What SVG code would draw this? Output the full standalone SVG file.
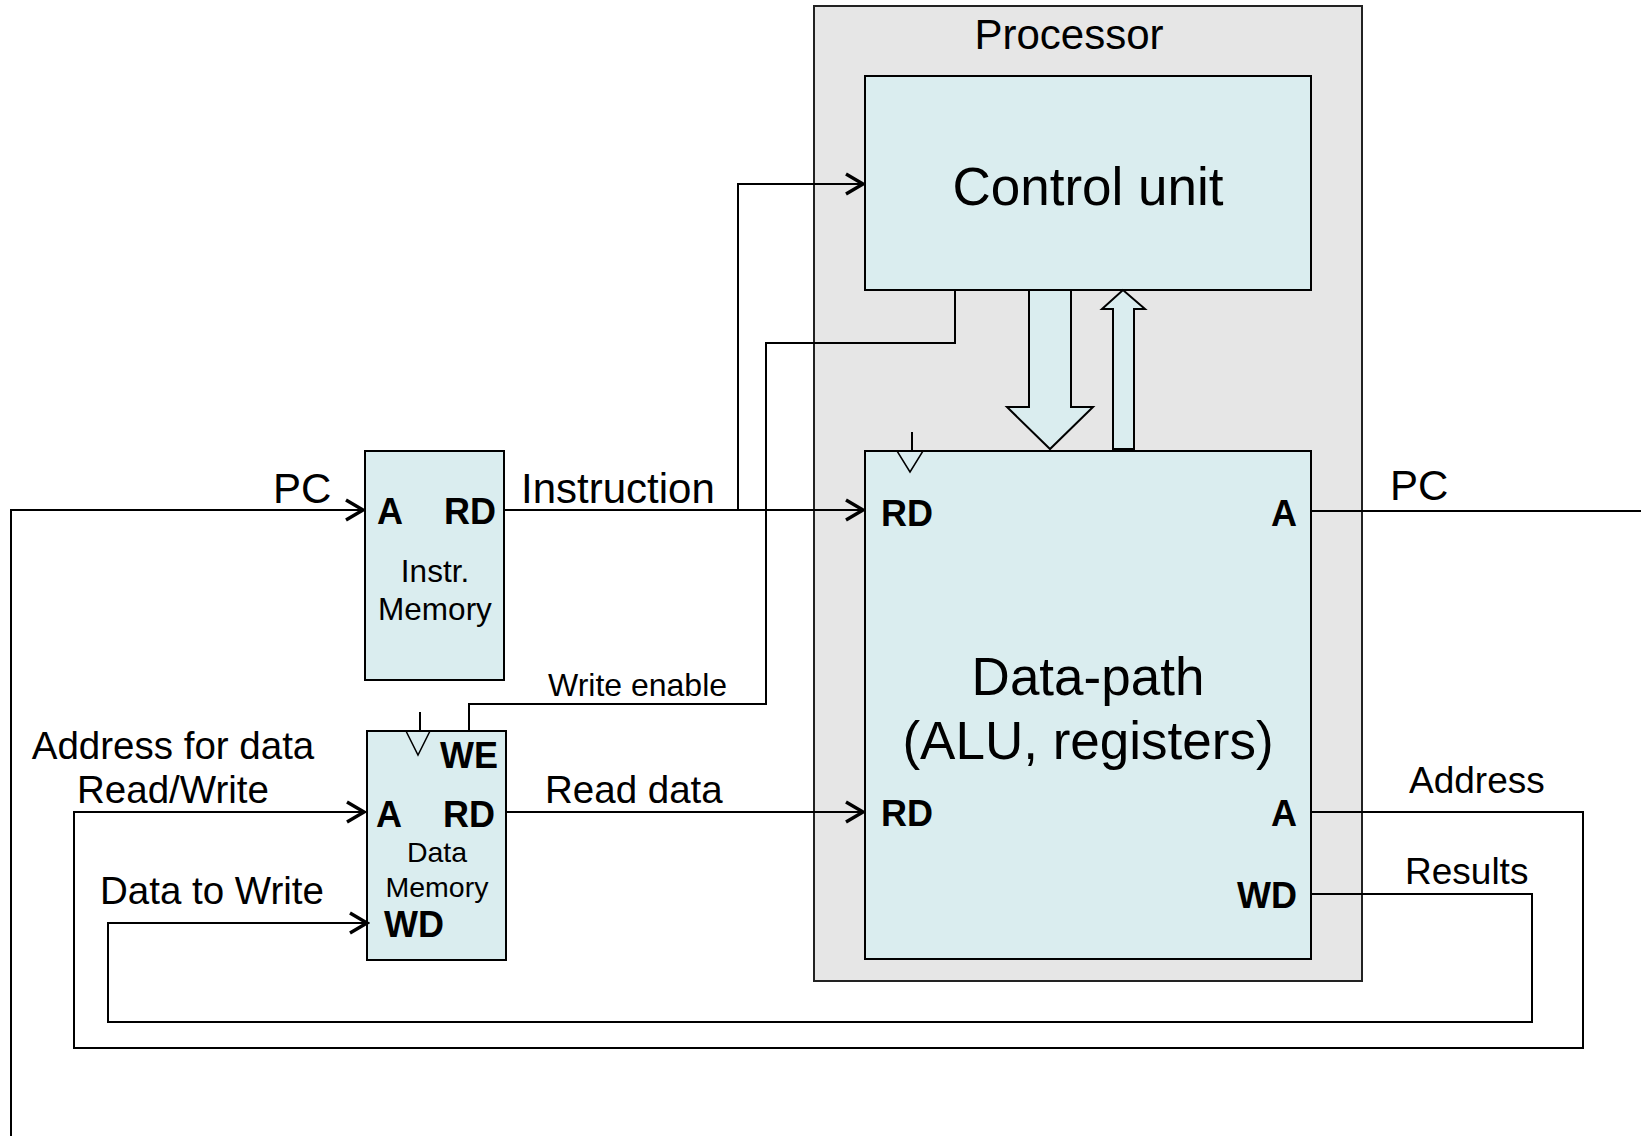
<svg xmlns="http://www.w3.org/2000/svg" width="1641" height="1136" viewBox="0 0 1641 1136">
<style>
text{font-family:"Liberation Sans",Arial,sans-serif;fill:#000}
.box{fill:#daedef;stroke:#000;stroke-width:2}
.proc{fill:#e6e6e6;stroke:#222;stroke-width:2}
.w{fill:none;stroke:#000;stroke-width:2}
.b{font-weight:bold;font-size:36px}
.lbl{font-size:37px}
.mid{text-anchor:middle}
.end{text-anchor:end}
</style>
<defs>
<marker id="arr" viewBox="0 0 22 24" refX="21" refY="12" markerWidth="22" markerHeight="24" markerUnits="userSpaceOnUse" orient="auto">
<path d="M2,2 L19,12 L2,22" fill="none" stroke="#000" stroke-width="3.4"/>
</marker>
</defs>
<rect width="1641" height="1136" fill="#fff"/>
<g id="processor">
<rect class="proc" x="814" y="6" width="548" height="975"/>
<text class="mid" x="1069" y="49" font-size="42">Processor</text>
</g>
<g id="control-unit">
<rect class="box" x="865" y="76" width="446" height="214"/>
<text class="mid" x="1088" y="205" font-size="53">Control unit</text>
</g>
<g id="datapath">
<rect class="box" x="865" y="451" width="446" height="508"/>
<path d="M912,432 V451" class="w" stroke-width="1.5"/>
<path d="M897,451 L923,451 L910,472 Z" fill="none" stroke="#000" stroke-width="1.5"/>
<text class="b" x="881" y="526">RD</text>
<text class="b end" x="1297" y="526">A</text>
<text class="b" x="881" y="826">RD</text>
<text class="b end" x="1297" y="826">A</text>
<text class="b end" x="1297" y="908">WD</text>
<text class="mid" x="1088" y="695" font-size="53">Data-path</text>
<text class="mid" x="1088" y="759" font-size="53">(ALU, registers)</text>
</g>
<g id="instr-memory">
<rect class="box" x="365" y="451" width="139" height="229"/>
<text class="b" x="377" y="524">A</text>
<text class="b" x="444" y="524">RD</text>
<text class="mid" x="435" y="582" font-size="31.5">Instr.</text>
<text class="mid" x="435" y="620" font-size="31.5">Memory</text>
</g>
<g id="data-memory">
<rect class="box" x="367" y="731" width="139" height="229"/>
<path d="M420,712 V731" class="w" stroke-width="1.5"/>
<path d="M406,731 L430,731 L418,755 Z" fill="none" stroke="#000" stroke-width="1.5"/>
<text class="b" x="440" y="768">WE</text>
<text class="b" x="376" y="827">A</text>
<text class="b" x="443" y="827">RD</text>
<text class="mid" x="437" y="862" font-size="28.5">Data</text>
<text class="mid" x="437" y="897" font-size="28.5">Memory</text>
<text class="b" x="384" y="937">WD</text>
</g>
<g id="arrows-cu-dp">
<polygon points="1029,290 1071,290 1071,407 1093,407 1050,449 1007,407 1029,407" fill="#daedef" stroke="#000" stroke-width="2"/>
<polygon points="1113,449 1134,449 1134,309 1145,309 1123,290 1102,309 1113,309" fill="#daedef" stroke="#000" stroke-width="2"/>
</g>
<g id="connectors">
<path class="w" d="M11,1136 V510 H365" marker-end="url(#arr)"/>
<path class="w" d="M505,510 H865" marker-end="url(#arr)"/>
<path class="w" d="M738,510 V184 H865" marker-end="url(#arr)"/>
<path class="w" d="M955,290 V343 H766 V704 H469 V731"/>
<path class="w" d="M506,812 H865" marker-end="url(#arr)"/>
<path class="w" d="M1311,812 H1583 V1048 H74 V812 H366" marker-end="url(#arr)"/>
<path class="w" d="M1311,894 H1532 V1022 H108 V923 H369" marker-end="url(#arr)"/>
<path class="w" d="M1311,511 H1641"/>
</g>
<g id="labels">
<text x="273" y="503" font-size="42">PC</text>
<text x="521" y="503" font-size="42">Instruction</text>
<text x="548" y="696" font-size="32">Write enable</text>
<text class="mid" x="173" y="759" font-size="38.5">Address for data</text>
<text class="mid" x="173" y="803" font-size="38.5">Read/Write</text>
<text x="545" y="803" font-size="38.5">Read data</text>
<text x="100" y="904" font-size="38.5">Data to Write</text>
<text x="1390" y="500" font-size="42">PC</text>
<text x="1409" y="793" font-size="37">Address</text>
<text x="1405" y="884" font-size="37">Results</text>
</g>
</svg>
